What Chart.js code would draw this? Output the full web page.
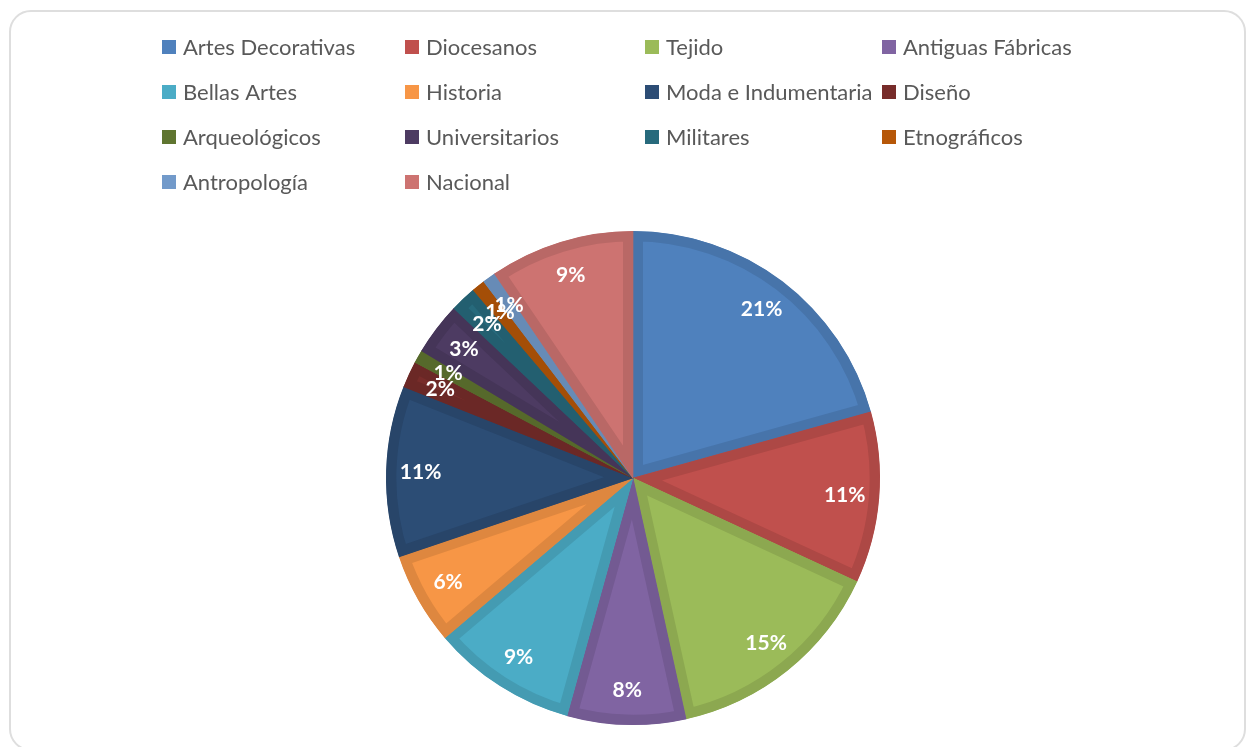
<!DOCTYPE html>
<html>
<head>
<meta charset="utf-8">
<script src="https://cdn.jsdelivr.net/npm/chart.js@4.4.0/dist/chart.umd.min.js"></script>
<style>
  html, body { margin: 0; padding: 0; background: #fff; overflow: hidden; }
  #wrap { position: relative; width: 1247px; height: 747px; }
  #frame {
    position: absolute; left: 9px; top: 10px; width: 1237px; height: 741px;
    border: 2px solid #dedede; border-radius: 22px; box-sizing: border-box;
  }
  canvas { position: absolute; left: 0; top: 0; }
</style>
</head>
<body>
<div id="wrap">
  <div id="frame"></div>
  <canvas id="pieChart" width="1247" height="747"></canvas>
</div>
<script>
// museum types and how many of each
const categories = [
  'Artes Decorativas', 'Diocesanos', 'Tejido', 'Antiguas Fábricas',
  'Bellas Artes', 'Historia', 'Moda e Indumentaria', 'Diseño',
  'Arqueológicos', 'Universitarios', 'Militares', 'Etnográficos',
  'Antropología', 'Nacional'
];
const counts = [24, 13, 17, 9, 11, 7, 13, 2, 1, 4, 2, 1, 1, 11];
const fills = [
  '#4f81bd', '#c0504d', '#9bbb59', '#8064a2',
  '#4bacc6', '#f79646', '#2c4d75', '#772c2a',
  '#5f7530', '#4d3b62', '#276a7c', '#b65708',
  '#729aca', '#cd7371'
];

function darker(hex, f) {
  const n = parseInt(hex.slice(1), 16);
  const r = Math.round(((n >> 16) & 255) * f);
  const g = Math.round(((n >> 8) & 255) * f);
  const b = Math.round((n & 255) * f);
  return `rgb(${r},${g},${b})`;
}
const edges = fills.map(c => darker(c, 0.9));

// legend laid out in a fixed 4-column grid above the pie
const gridLegend = {
  id: 'gridLegend',
  afterDraw(chart) {
    const ctx = chart.ctx;
    const colX = [162, 405, 645, 882];
    const rowY = [47, 92, 137, 182];
    ctx.save();
    ctx.font = '22px Lato';
    ctx.textBaseline = 'middle';
    chart.data.labels.forEach((name, i) => {
      const x = colX[i % 4], y = rowY[Math.floor(i / 4)];
      ctx.fillStyle = fills[i];
      ctx.fillRect(x, y - 7, 14, 14);
      ctx.fillStyle = '#595959';
      ctx.fillText(name, x + 21, y + 1);
    });
    ctx.restore();
  }
};

// white percentage labels near the outer edge of each slice
const pctLabels = {
  id: 'pctLabels',
  afterDatasetsDraw(chart) {
    const ctx = chart.ctx;
    const meta = chart.getDatasetMeta(0);
    const data = chart.data.datasets[0].data;
    const total = data.reduce((a, b) => a + b, 0);
    ctx.save();
    ctx.font = 'bold 21px Lato';
    ctx.fillStyle = '#fff';
    ctx.textAlign = 'center';
    ctx.textBaseline = 'middle';
    meta.data.forEach((arc, i) => {
      const p = arc.getProps(['x', 'y', 'startAngle', 'endAngle', 'outerRadius'], true);
      const mid = (p.startAngle + p.endAngle) / 2;
      const r = p.outerRadius * 0.86;
      const txt = Math.round(data[i] / total * 100) + '%';
      ctx.fillText(txt, p.x + Math.cos(mid) * r, p.y + Math.sin(mid) * r);
    });
    ctx.restore();
  }
};

new Chart(document.getElementById('pieChart'), {
  type: 'pie',
  data: {
    labels: categories,
    datasets: [{
      data: counts,
      backgroundColor: fills,
      borderColor: edges,
      borderWidth: 10,
      borderAlign: 'inner'
    }]
  },
  options: {
    responsive: false,
    animation: false,
    events: [],
    layout: { padding: { top: 231, bottom: 22, left: 300, right: 281 } },
    plugins: {
      legend: { display: false },
      tooltip: { enabled: false }
    }
  },
  plugins: [pctLabels, gridLegend]
});
</script>
</body>
</html>
